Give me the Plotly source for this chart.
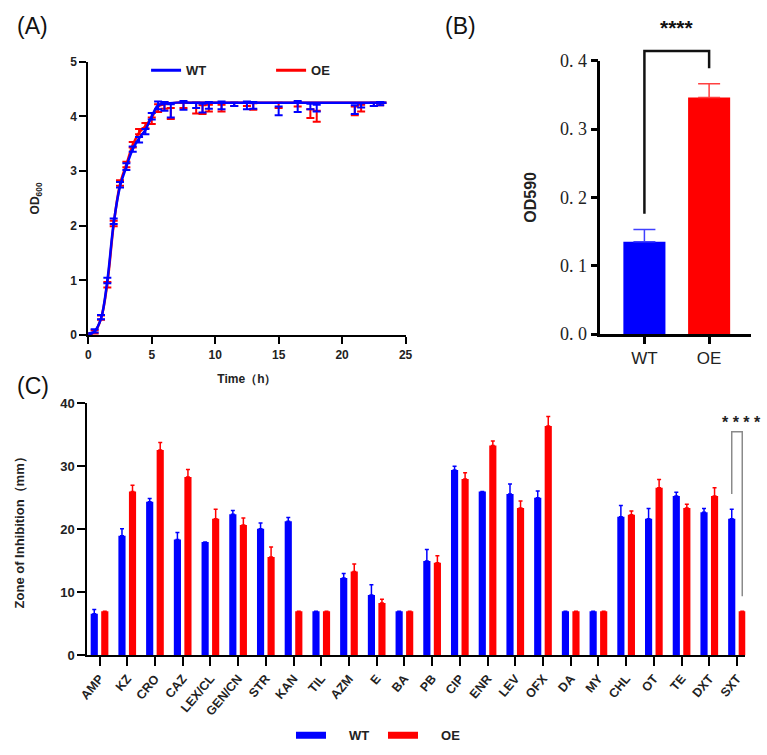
import plotly.graph_objects as go

# ---------------- Panel A data: growth curve ----------------
time_h = [0, 0.5, 1, 1.5, 2, 2.5, 3, 3.5, 4, 4.5, 5, 5.5, 6, 6.5, 7.5, 8.5, 9, 9.5,
          10.5, 11.5, 12.5, 13, 15, 16.5, 17.5, 18, 21, 21.5, 22.5, 23]
wt_od = [0.02, 0.08, 0.33, 1.00, 2.08, 2.75, 3.08, 3.40, 3.57, 3.72, 4.00, 4.20, 4.18, 4.10,
         4.20, 4.20, 4.15, 4.20, 4.20, 4.22, 4.20, 4.20, 4.10, 4.18, 4.18, 4.15, 4.12, 4.20, 4.22, 4.23]
wt_err = [0.02, 0.03, 0.04, 0.05, 0.05, 0.05, 0.06, 0.05, 0.05, 0.05, 0.06, 0.07, 0.08, 0.12,
          0.08, 0.05, 0.08, 0.06, 0.07, 0.03, 0.07, 0.06, 0.08, 0.10, 0.05, 0.06, 0.08, 0.04, 0.03, 0.03]
oe_od = [0.02, 0.06, 0.32, 0.92, 2.04, 2.78, 3.12, 3.48, 3.72, 3.83, 3.92, 4.15, 4.20, 4.05,
         4.20, 4.15, 4.12, 4.15, 4.15, 4.22, 4.22, 4.18, 4.20, 4.22, 4.05, 4.00, 4.10, 4.15, 4.22, 4.23]
oe_err = [0.02, 0.03, 0.04, 0.05, 0.05, 0.05, 0.05, 0.05, 0.05, 0.05, 0.06, 0.07, 0.06, 0.10,
          0.05, 0.10, 0.08, 0.06, 0.06, 0.03, 0.03, 0.06, 0.05, 0.04, 0.08, 0.10, 0.08, 0.06, 0.03, 0.03]
fit_t = [0, 0.5, 1, 1.5, 2, 2.5, 3, 3.5, 4, 4.5, 5, 5.5, 6, 7, 8, 10, 15, 20, 23.5]
wt_fit = [0.01, 0.07, 0.30, 1.00, 2.05, 2.72, 3.08, 3.40, 3.60, 3.75, 4.00, 4.20, 4.23, 4.25,
          4.25, 4.25, 4.25, 4.25, 4.25]
oe_fit = [0.01, 0.06, 0.30, 0.95, 2.02, 2.76, 3.12, 3.47, 3.70, 3.82, 3.98, 4.18, 4.22, 4.25,
          4.25, 4.25, 4.25, 4.25, 4.25]

# ---------------- Panel B data: biofilm OD590 ----------------
b_groups = ["WT", "OE"]
b_values = [0.135, 0.346]
b_err = [0.018, 0.020]

# ---------------- Panel C data: zone of inhibition ----------------
drugs = ["AMP", "KZ", "CRO", "CAZ", "LEX/CL", "GEN/CN", "STR", "KAN", "TIL", "AZM", "E", "BA",
         "PB", "CIP", "ENR", "LEV", "OFX", "DA", "MY", "CHL", "OT", "TE", "DXT", "SXT"]
c_wt = [6.6, 19.0, 24.4, 18.4, 18.0, 22.4, 20.1, 21.3, 7.0, 12.3, 9.6, 7.0,
        15.0, 29.4, 26.0, 25.6, 25.0, 7.0, 7.0, 22.0, 21.7, 25.3, 22.7, 21.7]
c_wt_err = [0.7, 1.1, 0.5, 1.1, 0.0, 0.6, 0.9, 0.6, 0.0, 0.7, 1.6, 0.0,
            1.8, 0.6, 0.0, 1.6, 1.1, 0.0, 0.0, 1.8, 1.6, 0.6, 0.6, 1.5]
c_oe = [7.0, 26.0, 32.6, 28.3, 21.7, 20.7, 15.6, 7.0, 7.0, 13.3, 8.3, 7.0,
        14.7, 28.0, 33.3, 23.4, 36.4, 7.0, 7.0, 22.3, 26.6, 23.4, 25.3, 7.0]
c_oe_err = [0.0, 1.0, 1.2, 1.2, 1.5, 1.1, 1.6, 0.0, 0.0, 1.2, 0.6, 0.0,
            1.1, 1.0, 0.7, 1.1, 1.5, 0.0, 0.0, 0.6, 1.3, 0.6, 1.3, 0.0]

BLUE = "#0000FF"
RED = "#FF0000"
SANS = "Arial, Liberation Sans, sans-serif"
SERIF = "Liberation Serif, DejaVu Serif, serif"
W, H = 767, 755
NB = "\u00a0"


def px_x(p):
    return p / W


def px_y(p):
    return 1 - p / H


fig = go.Figure()

# ---- Panel A traces ----
fig.add_trace(go.Scatter(x=fit_t, y=oe_fit, mode="lines", line=dict(color=RED, width=2.5, shape="spline"),
                         xaxis="x", yaxis="y", showlegend=False, hoverinfo="skip"))
fig.add_trace(go.Scatter(x=time_h, y=oe_od, mode="markers", marker=dict(size=1, color=RED),
                         error_y=dict(type="data", array=oe_err, color=RED, thickness=2, width=4),
                         xaxis="x", yaxis="y", showlegend=False))
fig.add_trace(go.Scatter(x=fit_t, y=wt_fit, mode="lines", line=dict(color=BLUE, width=2.5, shape="spline"),
                         xaxis="x", yaxis="y", showlegend=False, hoverinfo="skip"))
fig.add_trace(go.Scatter(x=time_h, y=wt_od, mode="markers", marker=dict(size=1, color=BLUE),
                         error_y=dict(type="data", array=wt_err, color=BLUE, thickness=2, width=4),
                         xaxis="x", yaxis="y", showlegend=False))
# legend entries for panel A
fig.add_trace(go.Scatter(x=[None], y=[None], mode="lines", line=dict(color=BLUE, width=3),
                         name="WT", legend="legend", xaxis="x", yaxis="y"))
fig.add_trace(go.Scatter(x=[None], y=[None], mode="lines", line=dict(color=RED, width=3),
                         name="OE", legend="legend", xaxis="x", yaxis="y"))

# ---- Panel B traces ----
for i, (g, v, e, col, ecol) in enumerate(zip(b_groups, b_values, b_err, [BLUE, RED], ["#4040FF", "#FF4040"])):
    fig.add_trace(go.Bar(x=[i], y=[v], width=0.65, offset=-0.325, marker=dict(color=col, line=dict(width=0)),
                         error_y=dict(type="data", array=[e], arrayminus=[0], color=ecol, thickness=1.5, width=11),
                         xaxis="x2", yaxis="y2", showlegend=False))

# ---- Panel C traces ----
fig.add_trace(go.Bar(x=drugs, y=c_wt, name="WT", marker=dict(color=BLUE, line=dict(width=0)),
                     error_y=dict(type="data", array=c_wt_err, arrayminus=[0] * len(c_wt), color=BLUE,
                                  thickness=1.5, width=2),
                     xaxis="x3", yaxis="y3", showlegend=False))
fig.add_trace(go.Bar(x=drugs, y=c_oe, name="OE", marker=dict(color=RED, line=dict(width=0)),
                     error_y=dict(type="data", array=c_oe_err, arrayminus=[0] * len(c_oe), color=RED,
                                  thickness=1.5, width=2),
                     xaxis="x3", yaxis="y3", showlegend=False))
fig.add_trace(go.Scatter(x=[None], y=[None], mode="lines", line=dict(color=BLUE, width=7),
                         name=NB * 5 + "WT", legend="legend2", xaxis="x3", yaxis="y3"))
fig.add_trace(go.Scatter(x=[None], y=[None], mode="lines", line=dict(color=RED, width=7),
                         name=NB * 5 + "OE", legend="legend2", xaxis="x3", yaxis="y3"))

axis_common = dict(showgrid=False, zeroline=False, showline=True, linecolor="black", ticks="outside",
                   tickcolor="black")

# Domains (from pixel positions)
xA = [px_x(81), px_x(405)]
yA = [px_y(334), px_y(53)]
xB = [px_x(604), px_x(758)]
yB = [px_y(333), px_y(52)]
xC = [px_x(80), px_x(752)]
yC = [px_y(663), px_y(404)]


def bold_font(s, fam=SANS):
    return dict(family=fam, size=s, color="#222", weight="bold")


fig.update_layout(
    width=W, height=H, margin=dict(l=0, r=0, t=0, b=0),
    paper_bgcolor="white", plot_bgcolor="white",
    barmode="group", bargap=0.24, bargroupgap=0.32,
    xaxis=dict(domain=xA, range=[0, 25], tickvals=[0, 5, 10, 15, 20, 25], anchor="y",
               linewidth=2, tickwidth=2, ticklen=7,
               tickfont=bold_font(12),
               title=dict(text="Time（h）", font=bold_font(12), standoff=14),
               **axis_common),
    yaxis=dict(domain=yA, range=[0, 5], tickvals=[0, 1, 2, 3, 4, 5], anchor="x",
               linewidth=2, tickwidth=2, ticklen=7,
               tickfont=bold_font(12),
               title=dict(text="OD<sub>600</sub>", font=bold_font(12), standoff=28),
               **axis_common),
    xaxis2=dict(domain=xB, range=[-0.68, 1.65], tickvals=[0, 1], ticktext=b_groups, anchor="y2",
                linewidth=2.5, tickwidth=2.5, ticklen=7,
                tickfont=dict(family=SANS, size=17, color="#222"), **axis_common),
    yaxis2=dict(domain=yB, range=[0, 0.4], tickvals=[0, 0.1, 0.2, 0.3, 0.4],
                ticktext=["0. 0", "0. 1", "0. 2", "0. 3", "0. 4"], anchor="x2",
                linewidth=2.5, tickwidth=2.5, ticklen=7,
                tickfont=dict(family=SERIF, size=18, color="#222"),
                title=dict(text="OD590", font=bold_font(16), standoff=20),
                **axis_common),
    xaxis3=dict(domain=xC, range=[-0.44, 23.3], anchor="y3", tickangle=-50,
                linewidth=2, tickwidth=2, ticklen=9,
                tickfont=bold_font(12.5), **axis_common),
    yaxis3=dict(domain=yC, range=[0, 40], tickvals=[0, 10, 20, 30, 40], anchor="x3",
                linewidth=2, tickwidth=2, ticklen=8,
                tickfont=bold_font(13),
                title=dict(text="Zone of Inhibition（mm）", font=bold_font(13), standoff=33),
                **axis_common),
    legend=dict(orientation="h", x=px_x(140), y=px_y(62), xanchor="left", yanchor="middle",
                entrywidth=80, entrywidthmode="pixels", bgcolor="rgba(0,0,0,0)",
                font=bold_font(13), traceorder="normal"),
    legend2=dict(orientation="h", x=px_x(288), y=px_y(745), xanchor="left", yanchor="middle",
                 entrywidth=47, entrywidthmode="pixels", bgcolor="rgba(0,0,0,0)",
                 font=bold_font(13), traceorder="normal"),
)


def ydom(v, r):
    return (v - r[0]) / (r[1] - r[0])


# Panel B significance bracket
rB = [0, 0.4]
fig.add_shape(type="path", xref="x2", yref="y2 domain",
              path=f"M 0 {ydom(0.176, rB)} L 0 {ydom(0.414, rB)} L 1 {ydom(0.414, rB)} L 1 {ydom(0.389, rB)}",
              line=dict(color="#111", width=2.5))
fig.add_annotation(x=0.5, y=ydom(0.448, rB), xref="x2", yref="y2 domain", text="****", showarrow=False,
                   font=dict(family=SANS, size=21, color="#111", weight="bold"), yanchor="middle")

# Panel C significance bracket (SXT)
sxt = len(drugs) - 1
fig.add_shape(type="path", xref="x3", yref="y3",
              path=f"M {sxt - 0.19} 25.6 L {sxt - 0.19} 35.5 L {sxt + 0.19} 35.5 L {sxt + 0.19} 9.4",
              line=dict(color="#8a8a8a", width=1.5))
fig.add_annotation(x=sxt + 0.15, y=36.9, xref="x3", yref="y3", text="* * * *", showarrow=False,
                   font=dict(family=SANS, size=16, color="#222", weight="bold"), yanchor="middle")

# Panel labels
for lab, x, y in [("(A)", 24, 16), ("(B)", 461, 16), ("(C)", 25, 386)]:
    fig.add_annotation(x=px_x(x), y=px_y(y), xref="paper", yref="paper", text=lab, showarrow=False,
                       font=dict(family=SANS, size=23, color="#111"), xanchor="center", yanchor="middle")

fig.write_html("out.html")
